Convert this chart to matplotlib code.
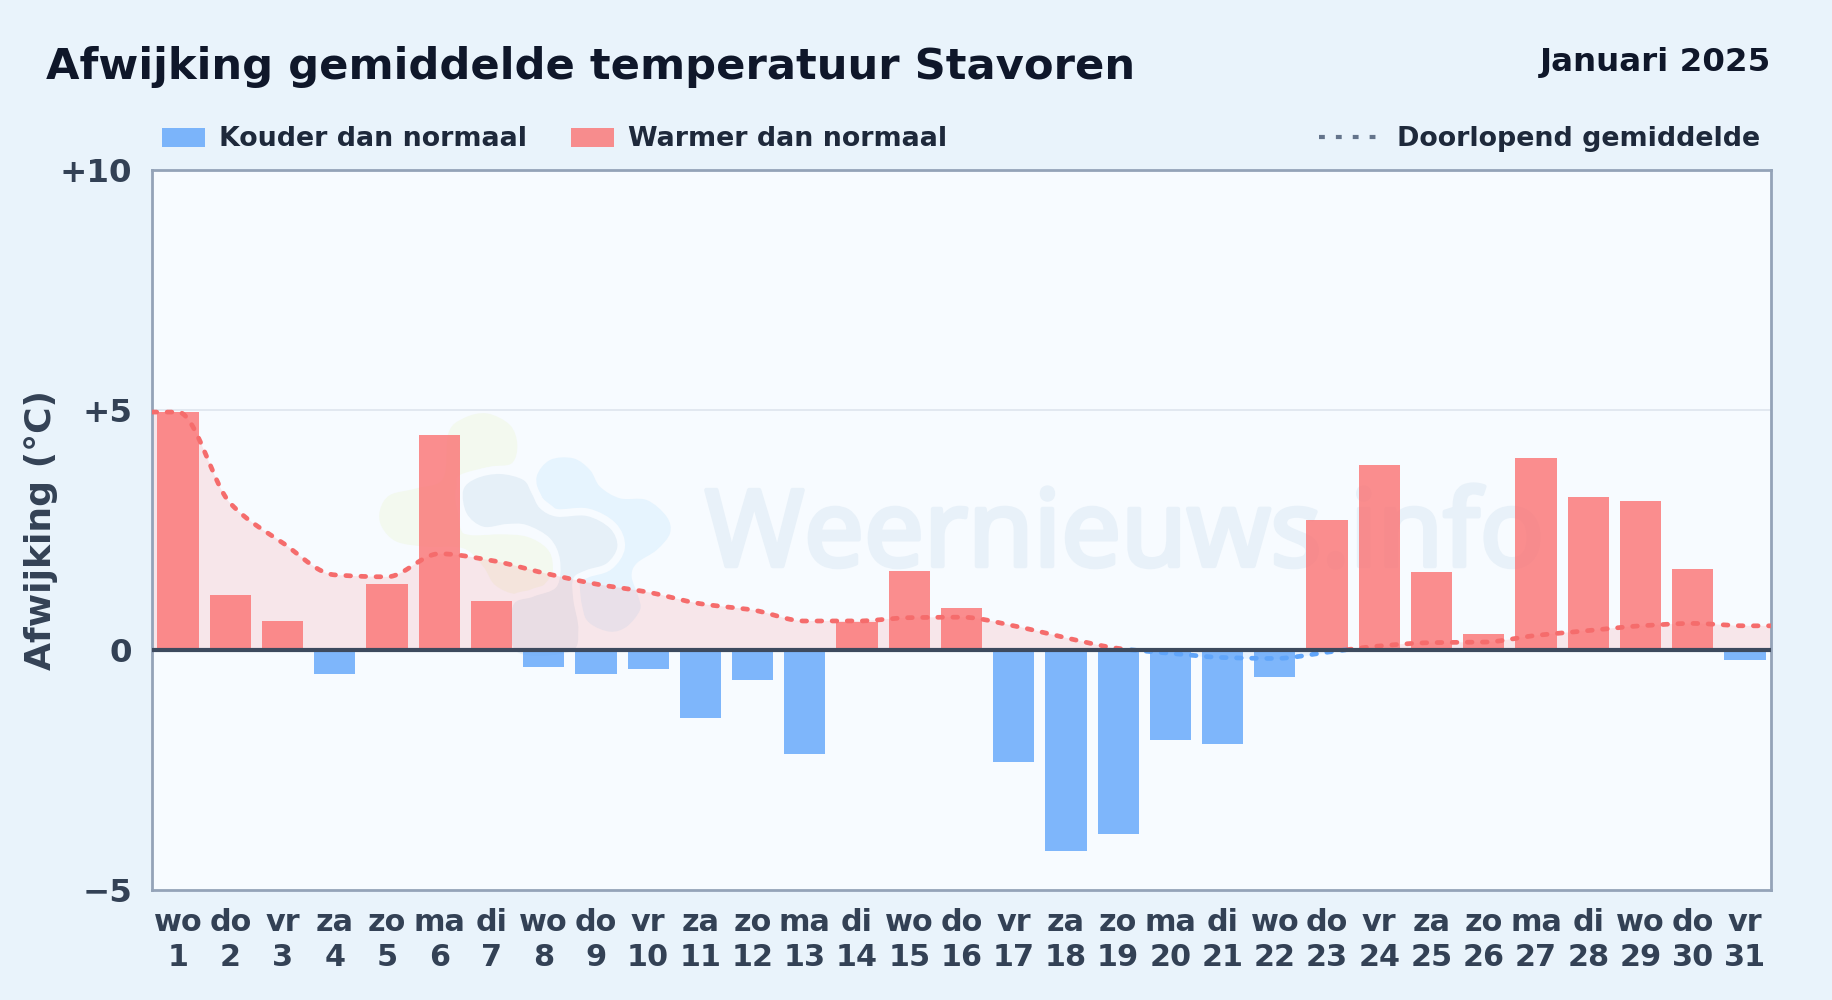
import numpy as np
import matplotlib
matplotlib.use("Agg")
import matplotlib.pyplot as plt
from matplotlib.patches import Patch, PathPatch
from matplotlib.path import Path
from matplotlib.lines import Line2D
from matplotlib.transforms import Affine2D
import matplotlib.patheffects as pe

days = list(range(1, 32))
weekdays = ["wo","do","vr","za","zo","ma","di","wo","do","vr","za","zo","ma","di","wo","do",
            "vr","za","zo","ma","di","wo","do","vr","za","zo","ma","di","wo","do","vr"]
anomaly = [4.96,1.14,0.60,-0.50,1.38,4.47,1.02,-0.36,-0.50,-0.40,-1.41,-0.63,-2.17,0.58,1.65,0.87,
           -2.33,-4.18,-3.84,-1.87,-1.97,-0.56,2.70,3.84,1.63,0.34,3.99,3.19,3.09,1.68,-0.22]
running = [4.95,3.05,2.23,1.56,1.52,2.00,1.86,1.60,1.37,1.20,0.96,0.83,0.60,0.60,0.67,0.68,
           0.50,0.25,0.03,-0.07,-0.16,-0.18,-0.05,0.08,0.15,0.16,0.30,0.40,0.50,0.55,0.50]

W, H = 1832, 1000
AXBG = "#f7fbff"
RED = "#fb7272"
BLUE = "#60a5fa"
fig = plt.figure(figsize=(W/200, H/200), dpi=200, facecolor="#e9f3fb")
plt.rcParams["font.family"] = "DejaVu Sans"
L, R, T, B = 152, 1771, 169.5, 890
ax = fig.add_axes([L/W, 1-B/H, (R-L)/W, (B-T)/H], facecolor=AXBG)
ax.set_xlim(0.5, 31.5)
ax.set_ylim(-5, 10)

# watermark logo: decorative blobs, outlines in pixel space
px_tf = Affine2D().translate(360*3, 400*3).scale(1/3, -1/3).translate(0, H)
def blob(pts):
    p = np.array(pts, float); n = len(p)
    verts = [p[0]]; codes = [Path.MOVETO]
    for i in range(n):
        p0, p1, p2, p3 = p[i-1], p[i], p[(i+1) % n], p[(i+2) % n]
        verts += [p1 + (p2-p0)/6, p2 - (p3-p1)/6, p2]
        codes += [Path.CURVE4]*3
    return Path(verts, codes)
green = [(265,100),(310,55),(380,40),(450,75),(472,135),(455,190),(390,200),(300,225),(290,260),(300,380),
         (330,405),(420,403),(500,410),(560,445),(582,500),(545,560),(470,582),(405,555),(370,500),(310,445),
         (200,440),(110,425),(65,380),(60,330),(90,285),(170,265),(250,235)]
lightblue = [(530,230),(570,180),(640,175),(690,210),(720,260),(780,295),(860,300),(920,350),(930,400),(890,450),
             (830,490),(815,530),(835,590),(840,630),(800,680),(750,695),(690,670),(660,620),(600,480),(600,350),(545,290)]
bluegrey = [(310,270),(350,235),(420,222),(490,240),(515,280),(540,325),(590,350),(680,348),(750,385),(772,440),
            (740,490),(680,510),(640,535),(640,600),(655,690),(630,755),(470,755),(458,620),(520,590),(590,560),
            (600,480),(570,415),(500,375),(440,372),(370,380),(320,340)]
for pts, col, z in [(green,"#f3f9ef",0.50),(lightblue,"#e6f4fe",0.51),(bluegrey,"#e6f0f8",0.53)]:
    if pts is bluegrey:
        ax.add_patch(PathPatch(blob(pts), transform=px_tf, fc="none", ec=AXBG, lw=5.5, zorder=z-0.01))
    ax.add_patch(PathPatch(blob(pts), transform=px_tf, fc=col, lw=0, zorder=z))
ax.text(0.5 + (1124.5-L)/(R-L)*31, -5 + (B-566)/(B-T)*15, "Weernieuws.info", fontsize=38.3, color="#e8f1f9",
        ha="center", va="baseline", family="Noto Sans", zorder=0.6,
        path_effects=[pe.withStroke(linewidth=1.6, foreground="#e8f1f9")])

x = np.array(days, float)
y = np.array(running)
xe = np.r_[0.5, x, 31.5]; ye = np.r_[y[0], y, y[-1]]
# monotone smoothing of the line between the read values
d = np.diff(ye)/np.diff(xe)
m = np.zeros_like(ye)
for i in range(1, len(ye)-1):
    if d[i-1]*d[i] > 0:
        w1 = 2*(xe[i+1]-xe[i]) + (xe[i]-xe[i-1]); w2 = (xe[i+1]-xe[i]) + 2*(xe[i]-xe[i-1])
        m[i] = (w1+w2)/(w1/d[i-1] + w2/d[i])
t = np.linspace(0.5, 31.5, 1600)
idx = np.clip(np.searchsorted(xe, t)-1, 0, len(xe)-2)
h_ = xe[idx+1]-xe[idx]; s = (t-xe[idx])/h_
ys = ((2*s**3-3*s**2+1)*ye[idx] + (s**3-2*s**2+s)*h_*m[idx] + (-2*s**3+3*s**2)*ye[idx+1] + (s**3-s**2)*h_*m[idx+1])

ax.fill_between(t, 0, ys, where=ys>=0, color=RED, alpha=0.15, lw=0, zorder=1)
ax.fill_between(t, 0, ys, where=ys<=0, color=BLUE, alpha=0.10, lw=0, zorder=1)
ax.axhline(5, color="#e2e8f0", lw=0.7, zorder=1)
ax.bar(days, anomaly, width=0.79, color=[RED if v > 0 else BLUE for v in anomaly], alpha=0.8, lw=0, zorder=2)
ax.plot(t, np.where(ys>=0, ys, np.nan), color="#f56c6c", lw=1.7, ls=(0,(1.0,2.2)), dash_capstyle="round", zorder=3)
ax.plot(t, np.where(ys<=0, ys, np.nan), color=BLUE, lw=1.7, ls=(0,(1.0,2.2)), dash_capstyle="round", zorder=3)
ax.axhline(0, color="#3d4a5e", lw=1.5, zorder=4)

for sp in ax.spines.values():
    sp.set_color("#94a3b8"); sp.set_linewidth(1.0)
ax.set_yticks([-5,0,5,10])
ax.set_yticklabels(["\u22125","0","+5","+10"], fontsize=11.7, fontweight="bold", color="#334155")
ax.set_xticks(days)
ax.set_xticklabels([f"{a}\n{b}" for a,b in zip(weekdays, days)], fontsize=10.9, fontweight="bold", color="#334155", linespacing=1.26)
ax.tick_params(length=0, pad=6.35)
ax.tick_params(axis="y", pad=7.2)
ax.set_ylabel("Afwijking (°C)", fontsize=13, fontweight="bold", color="#334155", labelpad=0)
ax.yaxis.set_label_coords((58-L)/(R-L), 0.5)

fig.text(46/W, 1-67/H, "Afwijking gemiddelde temperatuur Stavoren", fontsize=15.58, fontweight="bold", color="#0f172a", ha="left", va="center")
fig.text(1771/W, 1-62/H, "Januari 2025", fontsize=11.7, fontweight="bold", color="#0f172a", ha="right", va="center")

fig.legend(handles=[Patch(color=BLUE, alpha=0.8, lw=0, label="Kouder dan normaal"), Patch(color=RED, alpha=0.8, lw=0, label="Warmer dan normaal")],
           loc="center left", bbox_to_anchor=(162/W, 1-139.5/H), ncol=2, frameon=False, borderaxespad=0, borderpad=0,
           prop={"size":9.7,"weight":"bold"}, labelcolor="#1e293b", columnspacing=1.62, handlelength=1.6, handletextpad=0.52)
fig.legend(handles=[Line2D([0],[0], color="#64748b", lw=1.5, ls=(0,(1.4,2.65)), label="Doorlopend gemiddelde")],
           loc="center right", bbox_to_anchor=(1760/W, 1-139.5/H), frameon=False, borderaxespad=0, borderpad=0,
           prop={"size":9.7,"weight":"bold"}, labelcolor="#1e293b", handlelength=2.1, handletextpad=0.78)

fig.savefig("out.png", dpi=200, facecolor=fig.get_facecolor())
